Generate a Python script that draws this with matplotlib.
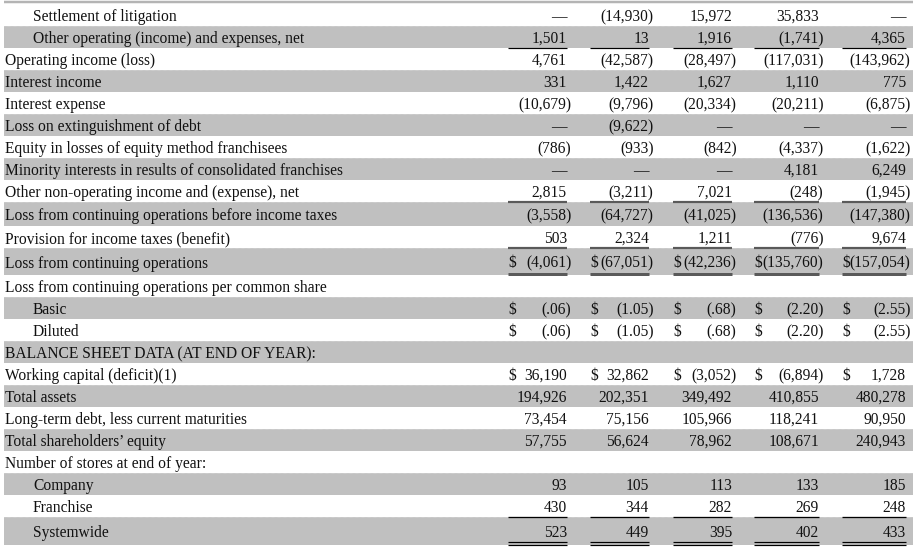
import matplotlib.pyplot as plt
from matplotlib.patches import Rectangle

# row labels and values (in thousands, except per share data)
row_labels = [
    "Settlement of litigation",
    "Other operating (income) and expenses, net",
    "Operating income (loss)",
    "Interest income",
    "Interest expense",
    "Loss on extinguishment of debt",
    "Equity in losses of equity method franchisees",
    "Minority interests in results of consolidated franchises",
    "Other non-operating income and (expense), net",
    "Loss from continuing operations before income taxes",
    "Provision for income taxes (benefit)",
    "Loss from continuing operations",
    "Loss from continuing operations per common share",
    "Basic",
    "Diluted",
    "BALANCE SHEET DATA (AT END OF YEAR):",
    "Working capital (deficit)(1)",
    "Total assets",
    "Long-term debt, less current maturities",
    "Total shareholders\u2019 equity",
    "Number of stores at end of year:",
    "Company",
    "Franchise",
    "Systemwide",
]
indented = [1, 1, 0, 0, 0, 0, 0, 0, 0, 0, 0, 0, 0, 1, 1, 0, 0, 0, 0, 0, 0, 1, 1, 1]

settlement = ["\u2014", "(14,930)", "15,972", "35,833", "\u2014"]
other_operating = ["1,501", "13", "1,916", "(1,741)", "4,365"]
operating_income = ["4,761", "(42,587)", "(28,497)", "(117,031)", "(143,962)"]
interest_income = ["331", "1,422", "1,627", "1,110", "775"]
interest_expense = ["(10,679)", "(9,796)", "(20,334)", "(20,211)", "(6,875)"]
extinguishment = ["\u2014", "(9,622)", "\u2014", "\u2014", "\u2014"]
equity_losses = ["(786)", "(933)", "(842)", "(4,337)", "(1,622)"]
minority_interests = ["\u2014", "\u2014", "\u2014", "4,181", "6,249"]
other_nonoperating = ["2,815", "(3,211)", "7,021", "(248)", "(1,945)"]
loss_before_taxes = ["(3,558)", "(64,727)", "(41,025)", "(136,536)", "(147,380)"]
income_taxes = ["503", "2,324", "1,211", "(776)", "9,674"]
loss_continuing = ["(4,061)", "(67,051)", "(42,236)", "(135,760)", "(157,054)"]
per_share_basic = ["(.06)", "(1.05)", "(.68)", "(2.20)", "(2.55)"]
per_share_diluted = ["(.06)", "(1.05)", "(.68)", "(2.20)", "(2.55)"]
working_capital = ["36,190", "32,862", "(3,052)", "(6,894)", "1,728"]
total_assets = ["194,926", "202,351", "349,492", "410,855", "480,278"]
long_term_debt = ["73,454", "75,156", "105,966", "118,241", "90,950"]
shareholders_equity = ["57,755", "56,624", "78,962", "108,671", "240,943"]
stores_company = ["93", "105", "113", "133", "185"]
stores_franchise = ["430", "344", "282", "269", "248"]
stores_systemwide = ["523", "449", "395", "402", "433"]
empty = [""] * 5

table_values = [
    settlement, other_operating, operating_income, interest_income,
    interest_expense, extinguishment, equity_losses, minority_interests,
    other_nonoperating, loss_before_taxes, income_taxes, loss_continuing,
    empty, per_share_basic, per_share_diluted, empty, working_capital,
    total_assets, long_term_debt, shareholders_equity, empty,
    stores_company, stores_franchise, stores_systemwide,
]
dollar_rows = [11, 13, 14, 16]

# layout (pixels)
W, H = 913, 547
TOP = 4
row_heights = [22] * 9 + [24, 22, 27] + [22] * 11 + [28]
col_left = [508, 590, 673, 754, 842]
col_right = [567, 649, 732, 819, 906]
GRAY = "#c0c0c0"
INK = "#111111"
FONT = "Liberation Serif"
FS = 11.2

fig = plt.figure(figsize=(W / 100, H / 100), dpi=100)
ax = fig.add_axes([0, 0, 1, 1])
ax.set_xlim(0, W)
ax.set_ylim(H, 0)
ax.axis("off")

px = 0.72  # one pixel in points

ax.hlines(2, 4, W, color="#b4b4b4", lw=2.5 * px)

y = TOP
row_bounds = []
for i, label in enumerate(row_labels):
    h = row_heights[i]
    if i % 2 == 1:
        ax.add_patch(Rectangle((4, y), W - 4, h, color=GRAY, lw=0, zorder=0))
    else:
        ax.hlines(y + h, 4, W, color="#e2e2e2", lw=0.6 * px, linestyles=(0, (1, 1)), zorder=0.5)
    yb = y + h / 2 + 6  # text baseline
    ax.text(33 if indented[i] else 5, yb, label, ha="left", va="baseline",
            fontsize=FS, family=FONT, color=INK)
    for j, v in enumerate(table_values[i]):
        if v == "":
            continue
        xr = col_right[j] + (4.5 if v.endswith(")") else 0)
        ax.text(xr, yb, v, ha="right", va="baseline", fontsize=FS, family=FONT, color=INK)
        if i in dollar_rows:
            ax.text(col_left[j], yb, "$", ha="left", va="baseline", fontsize=FS, family=FONT, color=INK)
    row_bounds.append((y, y + h))
    y += h

# underlines under columns
def underline(ypos, color, width):
    for l, r in zip(col_left, col_right):
        ax.hlines(ypos, l, r, color=color, lw=width * px)

underline(row_bounds[1][1], "#000000", 1.2)
underline(row_bounds[8][1], "#5a5a5a", 2.2)
underline(row_bounds[10][1], "#5a5a5a", 2.2)
underline(row_bounds[11][1] - 1, "#5a5a5a", 3)
underline(row_bounds[22][1], "#000000", 1.3)
underline(row_bounds[23][1] - 3, "#000000", 1.2)
underline(row_bounds[23][1], "#000000", 1.2)

fig.savefig("out.png", dpi=100)
